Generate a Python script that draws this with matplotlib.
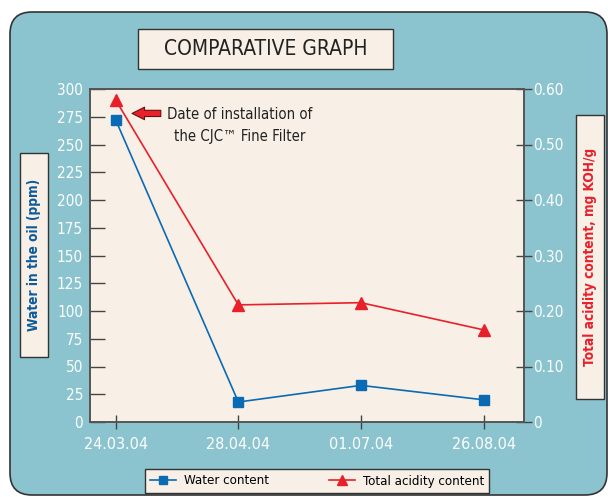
import matplotlib
matplotlib.use("Agg")
import matplotlib.pyplot as plt
from matplotlib.patches import FancyBboxPatch, Rectangle

# data
dates = ["24.03.04", "28.04.04", "01.07.04", "26.08.04"]
water_ppm = [272, 18, 33, 20]
acidity = [0.58, 0.211, 0.215, 0.166]

left_ticks = list(range(0, 301, 25))
right_ticks = [0, 0.1, 0.2, 0.3, 0.4, 0.5, 0.6]
right_labels = ["0", "0.10", "0.20", "0.30", "0.40", "0.50", "0.60"]

TEAL = "#8BC4CF"
CREAM = "#F8F0E6"
BLUE = "#0A6AB4"
RED = "#E8202A"

plt.rcParams["font.family"] = ["DejaVu Sans"]
plt.rcParams["font.stretch"] = "condensed"

fig = plt.figure(figsize=(6.08, 4.97), dpi=100)
fig.patch.set_facecolor("white")
inch = fig.dpi_scale_trans

# teal rounded background panel
fig.patches.append(FancyBboxPatch((0.10, 0.02), 5.97, 4.83,
                                  boxstyle="round,pad=0,rounding_size=0.22",
                                  transform=inch, facecolor=TEAL,
                                  edgecolor="#333333", linewidth=1.2, zorder=-2))


def label_box(x, y, w, h):
    fig.patches.append(Rectangle((x, y), w, h, transform=inch, facecolor=CREAM,
                                 edgecolor="#333333", linewidth=1.0, zorder=-1))


# title box
label_box(1.38, 4.28, 2.55, 0.40)
fig.text(1.38 + 2.55 / 2, 4.28 + 0.20, "COMPARATIVE GRAPH", transform=inch,
         ha="center", va="center", fontsize=15, color="#222222")

# left / right axis title boxes
label_box(0.20, 1.40, 0.28, 2.04)
fig.text(0.34, 1.40 + 1.02, "Water in the oil (ppm)", transform=inch, rotation=90,
         ha="center", va="center", fontsize=9.8, fontweight="bold", color="#0B5A9B")
label_box(5.76, 0.98, 0.28, 2.84)
fig.text(5.90, 0.98 + 1.42, "Total acidity content, mg KOH/g", transform=inch,
         rotation=90, ha="center", va="center", fontsize=9.8, fontweight="bold",
         color=RED)

ax = fig.add_axes([90 / 608, 75 / 497, 434 / 608, 333 / 497])
ax.set_facecolor(CREAM)
ax2 = ax.twinx()
ax.set_zorder(2)
ax2.set_zorder(3)

x = list(range(len(dates)))
l1, = ax.plot(x, water_ppm, color=BLUE, lw=1.2, marker="s", ms=7, zorder=3)
l2, = ax2.plot(x, acidity, color=RED, lw=1.2, marker="^", ms=8.5, zorder=3)

ax.set_xlim(-0.21, 3.33)
ax.set_ylim(0, 300)
ax2.set_ylim(0, 0.6)

ax.set_xticks(x)
ax.set_xticklabels(dates)
ax.set_yticks(left_ticks)
ax2.set_yticks(right_ticks)
ax2.set_yticklabels(right_labels)

for a in (ax, ax2):
    for s in a.spines.values():
        s.set_color("#555555")
        s.set_linewidth(1.2)
ax.tick_params(axis="y", direction="in", length=11, width=1, color="#444444",
               labelcolor="white", labelsize=11, pad=5)
ax.tick_params(axis="x", direction="inout", length=10, width=1, color="#444444",
               labelcolor="white", labelsize=11.5, pad=6)
ax2.tick_params(axis="y", direction="inout", length=11, width=1, color="#444444",
                labelcolor="white", labelsize=11, pad=1)

# annotation: installation date
ax.annotate("", xy=(0.11, 278), xytext=(0.39, 278),
            arrowprops=dict(arrowstyle="simple,head_length=0.9,head_width=0.9,tail_width=0.45",
                            facecolor=RED, edgecolor="#6a1010", lw=0.8))
ax.text(1.01, 267, "Date of installation of\nthe CJC\u2122 Fine Filter",
        ha="center", va="center", fontsize=10.7, color="#222222", linespacing=1.6)

# legend
leg = fig.legend([l1, l2], ["Water content", "Total acidity content"], ncol=2,
                 loc="center", bbox_to_anchor=(3.17, 0.16), bbox_transform=inch,
                 frameon=True, fancybox=False, facecolor=CREAM, edgecolor="#333333",
                 fontsize=9.5, columnspacing=4.5, handlelength=2.0, borderpad=0.4,
                 handletextpad=0.6, markerscale=0.9)
leg.get_frame().set_linewidth(1.0)
leg.get_frame().set_alpha(1)

fig.savefig("out.png", dpi=100, facecolor="white")
